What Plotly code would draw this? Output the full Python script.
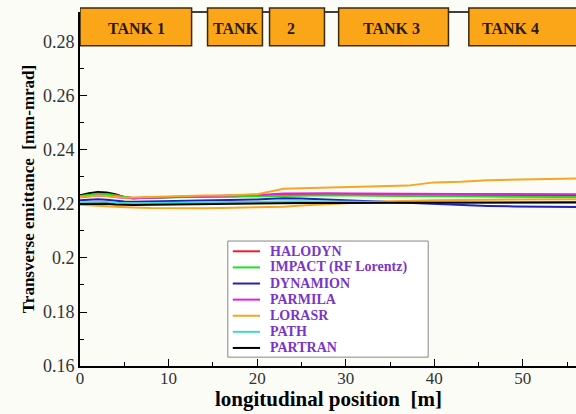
import plotly.graph_objects as go

# ---- data ----
x_pos = [0, 1, 2, 3, 4, 5, 6, 8, 10, 12, 14, 16, 18, 20, 21.5, 23, 25, 28, 31, 34, 37, 40, 43, 46, 49, 52, 56]

halodyn = [0.2228, 0.2233, 0.2236, 0.2237, 0.2233, 0.2226, 0.2222, 0.2224, 0.2226, 0.2227, 0.2228, 0.2228, 0.2229,
           0.2230, 0.2232, 0.2235, 0.2237, 0.2236, 0.2234, 0.2232, 0.2231, 0.2230, 0.2230, 0.2229, 0.2229, 0.2229, 0.2228]
impact = [0.2230, 0.2235, 0.2238, 0.2236, 0.2231, 0.2224, 0.2221, 0.2223, 0.2225, 0.2226, 0.2227, 0.2227, 0.2228,
          0.2229, 0.2231, 0.2232, 0.2233, 0.2232, 0.2231, 0.2230, 0.2229, 0.2228, 0.2228, 0.2227, 0.2227, 0.2227, 0.2226]
dynamion = [0.2214, 0.2216, 0.2218, 0.2216, 0.2212, 0.2209, 0.2208, 0.2209, 0.2210, 0.2211, 0.2212, 0.2213, 0.2215,
            0.2217, 0.2219, 0.2221, 0.2220, 0.2216, 0.2212, 0.2207, 0.2203, 0.2199, 0.2196, 0.2193, 0.2191, 0.2190, 0.2189]
parmila = [0.2225, 0.2229, 0.2231, 0.2230, 0.2226, 0.2222, 0.2221, 0.2223, 0.2225, 0.2226, 0.2228, 0.2229, 0.2231,
           0.2233, 0.2236, 0.2239, 0.2240, 0.2240, 0.2239, 0.2238, 0.2238, 0.2237, 0.2237, 0.2237, 0.2236, 0.2236, 0.2236]
lorasr = [0.2226, 0.2229, 0.2231, 0.2230, 0.2226, 0.2223, 0.2224, 0.2226, 0.2229, 0.2230, 0.2231, 0.2231, 0.2233,
          0.2236, 0.2246, 0.2256, 0.2258, 0.2260, 0.2262, 0.2265, 0.2268, 0.2280, 0.2282, 0.2288, 0.2290, 0.2292, 0.2294]
lorasr_2 = [0.2197, 0.2196, 0.2194, 0.2192, 0.2190, 0.2188, 0.2187, 0.2185, 0.2184, 0.2184, 0.2184, 0.2185, 0.2186,
            0.2187, 0.2188, 0.2190, 0.2194, 0.2200, 0.2205, 0.2209, 0.2212, 0.2214, 0.2215, 0.2216, 0.2217, 0.2217, 0.2218]
path = [0.2206, 0.2207, 0.2208, 0.2207, 0.2205, 0.2203, 0.2203, 0.2204, 0.2205, 0.2205, 0.2206, 0.2206, 0.2207,
        0.2208, 0.2209, 0.2210, 0.2210, 0.2209, 0.2208, 0.2207, 0.2206, 0.2206, 0.2205, 0.2205, 0.2205, 0.2204, 0.2204]
partran = [0.2200, 0.2201, 0.2202, 0.2201, 0.2198, 0.2196, 0.2196, 0.2197, 0.2198, 0.2198, 0.2199, 0.2199, 0.2200,
           0.2201, 0.2202, 0.2203, 0.2204, 0.2204, 0.2204, 0.2205, 0.2205, 0.2206, 0.2206, 0.2206, 0.2206, 0.2206, 0.2206]
partran_2 = [0.2232, 0.2240, 0.2244, 0.2243, 0.2236, 0.2225, 0.2221, 0.2224, 0.2226, 0.2227, 0.2228, 0.2228, 0.2229,
             0.2230, 0.2232, 0.2234, 0.2235, 0.2234, 0.2233, 0.2232, 0.2231, 0.2231, 0.2230, 0.2230, 0.2230, 0.2229, 0.2229]

series_names = ["HALODYN", "IMPACT (RF Lorentz)", "DYNAMION", "PARMILA", "LORASR", "PATH", "PARTRAN"]
series_values = [halodyn, impact, dynamion, parmila, lorasr, path, partran]
series_colors = ["#e8202a", "#22dd22", "#2222bb", "#e020e0", "#f5a623", "#40d8d0", "#000000"]

# tanks: label, start [m], end [m], label position [m]
tank_labels = ["TANK 1", "TANK", "2", "TANK 3", "TANK 4"]
tank_start = [0.0, 14.4, 21.4, 29.2, 43.9]
tank_end = [12.6, 20.6, 27.6, 41.6, 62.0]
tank_text_x = [6.4, 17.6, 23.8, 35.2, 48.6]

SERIF = "Times New Roman, Tinos, Liberation Serif, DejaVu Serif, serif"
LEG_COLOR = "#7a35c8"

fig = go.Figure()

# second-plane curves (drawn underneath, not in legend)
fig.add_trace(go.Scatter(x=x_pos, y=partran_2, mode="lines", line=dict(color="#000000", width=2),
                         showlegend=False, hoverinfo="skip"))
fig.add_trace(go.Scatter(x=x_pos, y=lorasr_2, mode="lines", line=dict(color="#f5a623", width=2),
                         showlegend=False, hoverinfo="skip"))

for name, vals, col in zip(series_names, series_values, series_colors):
    fig.add_trace(go.Scatter(x=x_pos, y=vals, mode="lines", name=name, line=dict(color=col, width=2),
                             showlegend=False))

shapes = [dict(type="line", xref="x", yref="paper", x0=0, x1=56, y0=1.0, y1=1.0,
               line=dict(color="black", width=1.5), layer="above")]
annotations = []
for lab, s, e, tx in zip(tank_labels, tank_start, tank_end, tank_text_x):
    shapes.append(dict(type="rect", xref="x", yref="paper", x0=s, x1=e, y0=0.905, y1=1.011,
                       fillcolor="#fba518", line=dict(color="#3a2a10", width=1.5), layer="above"))
    annotations.append(dict(x=tx, y=0.952, xref="x", yref="paper", xanchor="center", yanchor="middle",
                            text="<b>%s</b>" % lab, showarrow=False,
                            font=dict(family=SERIF, size=16, color="#2a1a08")))

# legend box (layout shapes/annotations in paper coordinates)
leg_x0, leg_x1, leg_y0, leg_y1 = 0.298, 0.702, 0.025, 0.353
shapes.append(dict(type="rect", xref="paper", yref="paper", x0=leg_x0, x1=leg_x1, y0=leg_y0, y1=leg_y1,
                   fillcolor="#ffffff", line=dict(color="#888888", width=1), layer="above"))
for i, (name, col) in enumerate(zip(series_names, series_colors)):
    yy = 0.324 - i * 0.0455
    shapes.append(dict(type="line", xref="paper", yref="paper", x0=0.308, x1=0.363, y0=yy, y1=yy,
                       line=dict(color=col, width=2), layer="above"))
    annotations.append(dict(x=0.380, y=yy, xref="paper", yref="paper", xanchor="left", yanchor="middle",
                            text="<b>%s</b>" % name, showarrow=False,
                            font=dict(family=SERIF, size=14, color=LEG_COLOR)))

# x-axis title as annotation placed right under the tick labels
annotations.append(dict(x=0.5, y=-0.093, xref="paper", yref="paper", xanchor="center", yanchor="middle",
                        text="<b>longitudinal position  [m]</b>", showarrow=False,
                        font=dict(family=SERIF, size=21, color="black")))

fig.update_layout(
    width=576, height=414,
    margin=dict(l=80, r=0, t=12, b=48),
    paper_bgcolor="#fcfcf7", plot_bgcolor="#fcfcf7",
    shapes=shapes, annotations=annotations,
    showlegend=False,
    xaxis=dict(range=[0, 56], showgrid=False, zeroline=False, showline=True, linecolor="black", linewidth=2,
               ticks="inside", ticklen=7, tickwidth=1, tickcolor="black", dtick=10, tick0=0,
               minor=dict(ticks="inside", ticklen=4, dtick=5, tickcolor="black"),
               ticklabelstandoff=-4,
               tickfont=dict(family=SERIF, size=17, color="#333333")),
    yaxis=dict(range=[0.16, 0.2911], showgrid=False, zeroline=False, showline=True, linecolor="black", linewidth=2,
               ticks="inside", ticklen=7, tickwidth=1, tickcolor="black", dtick=0.02, tick0=0.16,
               minor=dict(ticks="inside", ticklen=4, dtick=0.01, tickcolor="black"),
               tickfont=dict(family=SERIF, size=18, color="#333333"),
               title=dict(text="<b>Transverse emittance  [mm-mrad]</b>",
                          font=dict(family=SERIF, size=17, color="black"), standoff=4)),
)

fig.write_html("out.html", config={"displayModeBar": False},
               post_script="document.body.style.margin='0';document.body.style.padding='0';")
